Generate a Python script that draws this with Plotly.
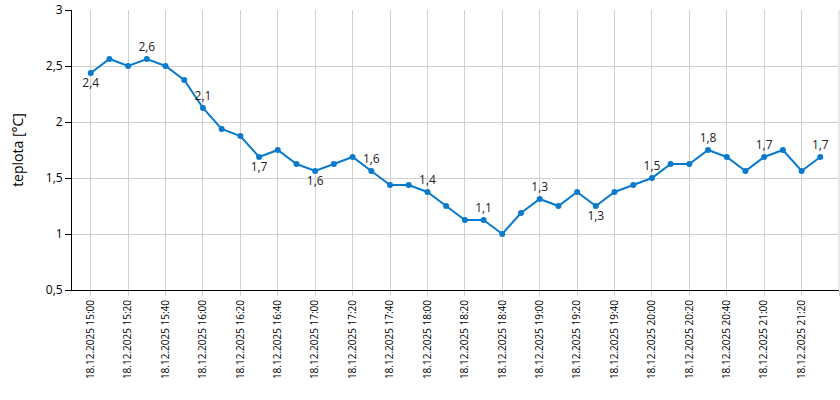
import math
import pandas as pd
import plotly.graph_objects as go

times = pd.date_range("2025-12-18 15:00", "2025-12-18 21:30", freq="10min")
temps = [2.4375, 2.5625, 2.5, 2.5625, 2.5, 2.375, 2.125, 1.9375, 1.875,
         1.6875, 1.75, 1.625, 1.5625, 1.625, 1.6875, 1.5625, 1.4375, 1.4375,
         1.375, 1.25, 1.125, 1.125, 1.0, 1.1875, 1.3125, 1.25, 1.375, 1.25,
         1.375, 1.4375, 1.5, 1.625, 1.625, 1.75, 1.6875, 1.5625, 1.6875,
         1.75, 1.5625, 1.6875]
label_below = {0, 9, 12, 27}

texts, positions = [], []
for i, v in enumerate(temps):
    if i % 3 == 0:
        r = math.floor(v * 10 + 0.5) / 10
        texts.append(f"{r:.1f}".replace(".", ","))
    else:
        texts.append("")
    positions.append("bottom center" if i in label_below else "top center")

line_color = "#0a7acc"
grid_color = "#d0d0d0"
font = "Open Sans, Noto Sans, sans-serif"

fig = go.Figure()
fig.add_trace(go.Scatter(
    x=times, y=temps, mode="lines+markers+text",
    line=dict(color=line_color, width=2),
    marker=dict(color=line_color, size=6),
    text=texts, textposition=positions,
    textfont=dict(size=12, color="#222222", family=font),
    cliponaxis=False, showlegend=False,
))

fig.update_layout(
    width=840, height=400,
    margin=dict(l=72, r=1, t=10, b=110),
    paper_bgcolor="white", plot_bgcolor="white",
    separators=", ",
    font=dict(family=font, size=12, color="#000000"),
    shapes=[dict(type="line", xref="paper", yref="paper", x0=1, x1=1, y0=0, y1=1,
                 line=dict(color=grid_color, width=1))],
)
fig.update_xaxes(
    type="date", automargin=False,
    range=["2025-12-18 14:50", "2025-12-18 21:40"],
    tick0="2025-12-18 15:00", dtick=20 * 60 * 1000,
    tickformat="%d.%m.%Y %H:%M", tickangle=-90,
    showgrid=True, gridcolor=grid_color, gridwidth=1,
    showline=True, linecolor="#000000", linewidth=1,
    ticks="outside", ticklen=5, tickcolor=grid_color,
    tickfont=dict(size=10, color="#000000"),
    zeroline=False,
)
fig.update_yaxes(
    automargin=False,
    range=[0.5, 3], dtick=0.5, tick0=0.5,
    title=dict(text="teplota [°C]", font=dict(size=14), standoff=18),
    showgrid=True, gridcolor=grid_color, gridwidth=1,
    showline=True, linecolor="#000000", linewidth=1,
    ticks="outside", ticklen=6, tickcolor="#000000",
    tickfont=dict(size=12, color="#000000"),
    zeroline=False,
)

fig.write_html("out.html", config={"displayModeBar": False},
               post_script="document.body.style.margin='0px';")
